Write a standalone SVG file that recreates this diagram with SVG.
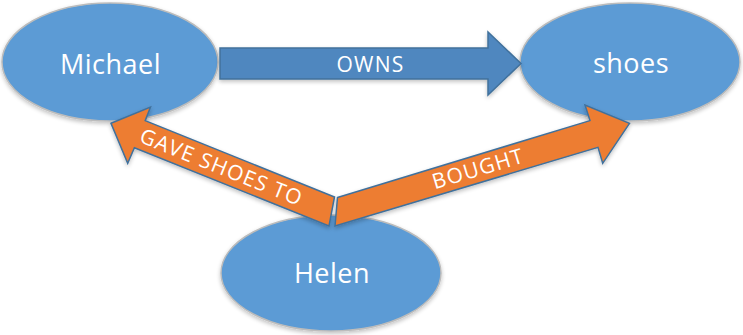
<svg xmlns="http://www.w3.org/2000/svg" width="743" height="335" viewBox="0 0 743 335">
  <defs>
    <filter id="shadow" x="-10%" y="-10%" width="120%" height="130%">
      <feGaussianBlur in="SourceAlpha" stdDeviation="2"/>
      <feOffset dx="0" dy="2" result="blur"/>
      <feComponentTransfer><feFuncA type="linear" slope="0.25"/></feComponentTransfer>
      <feMerge><feMergeNode/><feMergeNode in="SourceGraphic"/></feMerge>
    </filter>
    <style>
      .node ellipse { fill: #5B9BD5; stroke: #BCBCBC; stroke-width: 1.5; filter: url(#shadow); }
      .node text { font-family: "Open Sans", "Noto Sans", "Liberation Sans", sans-serif; font-size: 27px; fill: #FFFFFF; text-anchor: middle; letter-spacing: 0.5px; }
      .arrow { stroke: #41719C; stroke-width: 1.5; stroke-linejoin: miter; filter: url(#shadow); }
      .owns { fill: #4F87BF; }
      .rel { fill: #ED7D31; }
      .label { font-family: "Open Sans", "Noto Sans", "Liberation Sans", sans-serif; font-size: 21px; fill: #FFFFFF; text-anchor: middle; letter-spacing: 1.2px; }
    </style>
  </defs>

  <g id="node-michael" class="node">
    <ellipse cx="110" cy="62" rx="108" ry="59"/>
    <text x="110.5" y="74">Michael</text>
  </g>
  <g id="node-shoes" class="node">
    <ellipse cx="630" cy="62" rx="110" ry="59"/>
    <text x="631" y="73">shoes</text>
  </g>
  <g id="node-helen" class="node">
    <ellipse cx="331" cy="273" rx="110" ry="58"/>
    <text x="332" y="283">Helen</text>
  </g>

  <g id="connectors">
    <g id="edge-owns">
      <polygon class="arrow owns" points="220,48 488,48 488,32 521,63.5 488,95 488,79 220,79"/>
      <text class="label" x="370.5" y="71.5">OWNS</text>
    </g>
    <g id="edge-gave">
      <polygon class="arrow rel" points="111,123.3 150.5,107 145.2,120.7 334.5,197 329,226 134.4,147.7 127.7,163.3"/>
      <text class="label" transform="translate(221.5,167) rotate(21.9)" x="0" y="7.5">GAVE SHOES TO</text>
    </g>
    <g id="edge-bought">
      <polygon class="arrow rel" points="337.5,197.5 590,120.6 585,105 629.5,123.3 602.7,163.3 598,147.4 335,226"/>
      <text class="label" transform="translate(478,168.5) rotate(-16.7)" x="0" y="7.5">BOUGHT</text>
    </g>
  </g>
</svg>
